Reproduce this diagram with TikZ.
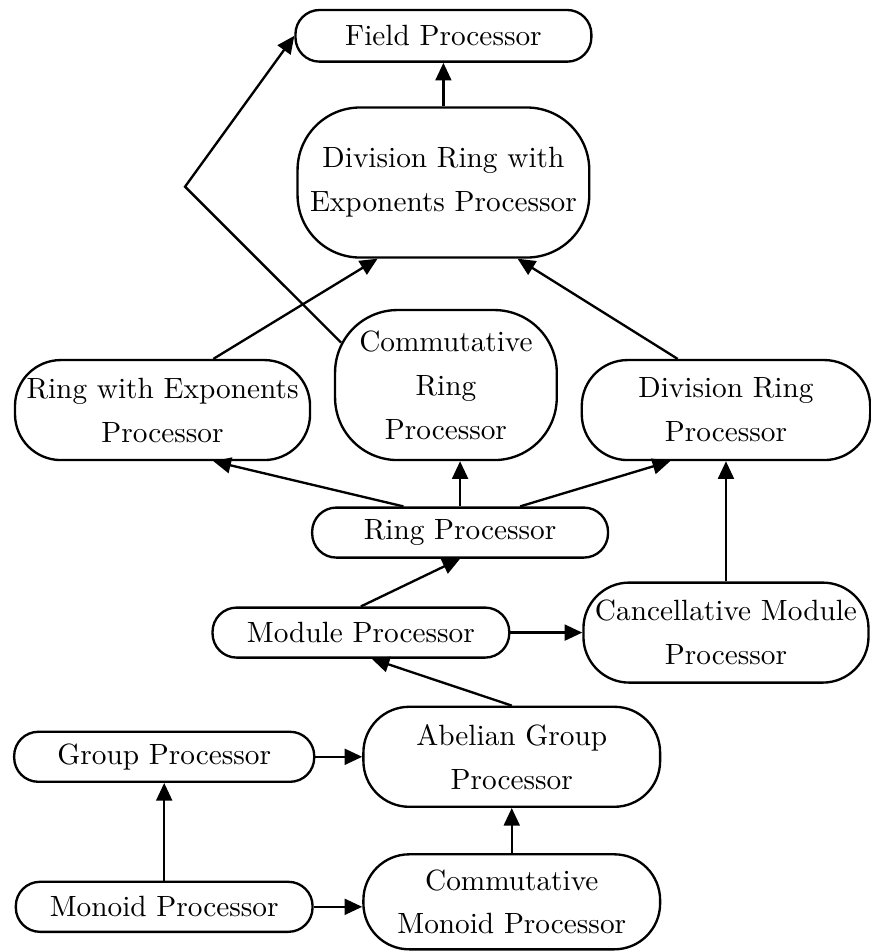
\documentclass[tikz,border=0pt]{standalone}
\usepackage{tikz}
\usetikzlibrary{arrows.meta}

\begin{document}
\begin{tikzpicture}[
    >={Triangle[length=6pt, width=5.4pt]},
    proc/.style={draw, thick, rounded corners=0.29cm, minimum width=3.55cm, minimum height=0.6cm, align=center, inner sep=2pt, font={\fontsize{10}{15}\selectfont}},
    tallproc/.style={proc, rounded corners=0.55cm, minimum height=1.2cm},
    bigproc/.style={proc, rounded corners=0.75cm, minimum height=1.8cm},
    link/.style={->, thick},
]
    \useasboundingbox (0,0) rectangle (10.45,11.41);

    % top part
    \node[proc, minimum height=0.62cm] (field) at (5.32, 10.98) {Field Processor};
    \node[bigproc, minimum width=3.5cm] (drwe) at (5.32, 9.22) {Division Ring with\\Exponents Processor};
    \node[tallproc, minimum width=3.54cm] (rwe) at (1.95, 6.49) {Ring with Exponents\\Processor};
    \node[bigproc, minimum width=2.66cm] (comm) at (5.35, 6.79) {Commutative\\Ring\\Processor};
    \node[tallproc, minimum width=3.46cm] (divring) at (8.71, 6.49) {Division Ring\\Processor};
    \node[proc] (ring) at (5.52, 5.02) {Ring Processor};
    \coordinate (bend) at (2.22, 9.17);

    % middle part
    \node[proc, minimum width=3.56cm] (module) at (4.33, 3.82) {Module Processor};
    \node[tallproc, minimum width=3.42cm] (cancel) at (8.71, 3.82) {Cancellative Module\\Processor};

    % bottom part
    \node[tallproc, minimum width=3.56cm] (abelian) at (6.14, 2.33) {Abelian Group\\Processor};
    \node[proc, minimum width=3.6cm] (group) at (1.97, 2.33) {Group Processor};
    \node[proc, minimum width=3.56cm] (monoid) at (1.97, 0.53) {Monoid Processor};
    \node[tallproc, minimum width=3.56cm, minimum height=1.14cm] (commmon) at (6.14, 0.59) {Commutative\\Monoid Processor};

    \draw[link] (drwe) -- (field);
    \draw[link] ([shift={(0.085,-0.404)}]comm.north west) -- (bend) -- (field.west);
    \draw[link] ([xshift=0.61cm]rwe.north) -- ([xshift=-0.79cm]drwe.south);
    \draw[link] ([xshift=-0.58cm]divring.north) -- ([xshift=0.89cm]drwe.south);
    \draw[link] ([xshift=-0.68cm]ring.north) -- ([xshift=0.61cm]rwe.south);
    \draw[link] (ring.north) -- (ring.north |- comm.south);
    \draw[link] ([xshift=0.72cm]ring.north) -- ([xshift=-0.67cm]divring.south);
    \draw[link] (cancel) -- (divring);
    \draw[link] (module.north) -- (ring.south);
    \draw[link] (module) -- (cancel);
    \draw[link] (abelian.north) -- ([xshift=0.13cm]module.south);
    \draw[link] (group) -- (abelian);
    \draw[link] (monoid) -- (group);
    \draw[link] (monoid.east) -- (monoid.east -| commmon.west);
    \draw[link] (commmon) -- (abelian);
\end{tikzpicture}
\end{document}
